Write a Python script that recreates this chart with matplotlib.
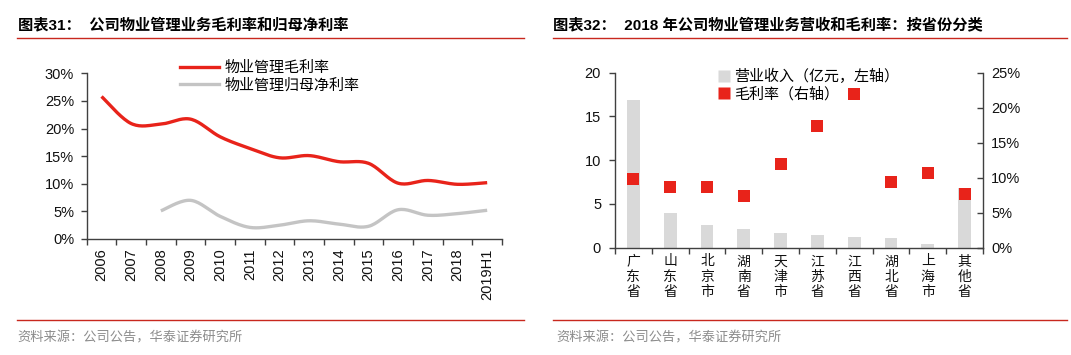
import numpy as np
import matplotlib
matplotlib.use("Agg")
import matplotlib.pyplot as plt
from matplotlib.lines import Line2D

plt.rcParams['font.family'] = ['Liberation Sans', 'Noto Sans CJK SC', 'DejaVu Sans']

# ---------------- data ----------------
years = ['2006', '2007', '2008', '2009', '2010', '2011', '2012', '2013',
         '2014', '2015', '2016', '2017', '2018', '2019H1']
gross_margin = [25.8, 20.9, 20.8, 21.7, 18.5, 16.4, 14.7, 15.1, 14.0, 13.7, 10.1, 10.6, 9.9, 10.2]
net_margin = [None, None, 5.1, 7.0, 4.1, 2.1, 2.5, 3.3, 2.7, 2.3, 5.3, 4.3, 4.6, 5.2]
left_legend = ['物业管理毛利率', '物业管理归母净利率']
left_title = '图表31：  公司物业管理业务毛利率和归母净利率'

provinces = ['广东省', '山东省', '北京市', '湖南省', '天津市', '江苏省', '江西省', '湖北省', '上海市', '其他省']
revenue = [16.9, 3.9, 2.6, 2.1, 1.7, 1.45, 1.25, 1.1, 0.38, 6.8]
province_margin = [9.8, 8.7, 8.6, 7.4, 12.0, 17.4, 22.0, 9.3, 10.7, 7.6]
right_legend = ['营业收入（亿元，左轴）', '毛利率（右轴）']
right_title = '图表32：  2018 年公司物业管理业务营收和毛利率：按省份分类'
source = '资料来源：公司公告，华泰证券研究所'

RED = '#E8231A'
GRAY_LINE = '#C4C4C4'
BAR = '#D9D9D9'
TITLE_RED = '#C8281E'
AX = '#404040'

W, H = 1071, 355
fig = plt.figure(figsize=(W / 100, H / 100), dpi=100)


def px_axes(x0, y0, x1, y1):
    return fig.add_axes([x0 / W, 1 - y1 / H, (x1 - x0) / W, (y1 - y0) / H])


def smooth(xs, ys, n=20):
    xs = np.asarray(xs, float)
    ys = np.asarray(ys, float)
    P = np.column_stack([xs, ys])
    out = []
    for i in range(len(P) - 1):
        p0 = P[i - 1] if i > 0 else P[i]
        p1 = P[i]
        p2 = P[i + 1]
        p3 = P[i + 2] if i + 2 < len(P) else P[i + 1]
        c1 = p1 + (p2 - p0) / 6
        c2 = p2 - (p3 - p1) / 6
        t = np.linspace(0, 1, n)[:, None]
        seg = (1 - t) ** 3 * p1 + 3 * (1 - t) ** 2 * t * c1 + 3 * (1 - t) * t ** 2 * c2 + t ** 3 * p2
        out.append(seg if i == 0 else seg[1:])
    arr = np.vstack(out)
    return arr[:, 0], arr[:, 1]


def style_axes(ax):
    for s in ['top', 'right']:
        ax.spines[s].set_visible(False)
    for s in ['left', 'bottom']:
        ax.spines[s].set_color(AX)
        ax.spines[s].set_linewidth(1.0)


# ---------------- left chart ----------------
ax1 = px_axes(86.7, 73.3, 502, 239)
style_axes(ax1)
x = np.arange(len(years))
sx, sy = smooth(x, gross_margin)
ax1.plot(sx, sy, color=RED, lw=2.4, solid_capstyle='butt')
idx = [i for i, v in enumerate(net_margin) if v is not None]
sx2, sy2 = smooth(x[idx], [net_margin[i] for i in idx])
ax1.plot(sx2, sy2, color=GRAY_LINE, lw=2.4, solid_capstyle='butt')
ax1.set_xlim(-0.5, len(years) - 0.5)
ax1.set_ylim(0, 30)
ax1.set_yticks(np.arange(0, 31, 5))
ax1.set_yticklabels([f'{v}%' for v in range(0, 31, 5)], fontsize=10.5, color='#111111')
ax1.set_xticks(x)
ax1.set_xticklabels(years, rotation=90, fontsize=10.5, color='#111111')
ax1.set_xticks(np.arange(-0.5, len(years), 1), minor=True)
ax1.tick_params(axis='x', which='major', length=0, pad=7)
ax1.tick_params(axis='x', which='minor', length=4, color=AX, width=1)
ax1.tick_params(axis='y', length=4, color=AX, width=1, pad=5)
ax1.patch.set_alpha(0)

h1 = [Line2D([0], [0], color=RED, lw=2.4), Line2D([0], [0], color=GRAY_LINE, lw=2.4)]
leg1 = fig.legend(h1, left_legend, loc='upper left', bbox_to_anchor=(174 / W, 1 - 55 / H),
                  frameon=False, prop={'family': ['Noto Sans CJK SC'], 'size': 10.8},
                  handlelength=2.6, handletextpad=0.4, labelspacing=0.2, borderaxespad=0)

# ---------------- right chart ----------------
ax2 = px_axes(615, 72.7, 983, 247.5)
style_axes(ax2)
xp = np.arange(len(provinces))
ax2.bar(xp, revenue, width=0.35, color=BAR, zorder=1)
ax2.set_xlim(-0.5, len(provinces) - 0.5)
ax2.set_ylim(0, 20)
ax2.set_yticks(np.arange(0, 21, 5))
ax2.set_yticklabels([str(v) for v in range(0, 21, 5)], fontsize=10.5, color='#111111')
ax2.tick_params(axis='y', length=4, color=AX, width=1, pad=6)
ax2.set_xticks(xp)
ax2.set_xticklabels(['\n'.join(p) for p in provinces], fontsize=10,
                    family=['Noto Sans CJK SC'], linespacing=1.1, color='#111111')
ax2.set_xticks(np.arange(-0.5, len(provinces), 1), minor=True)
ax2.tick_params(axis='x', which='major', length=0, pad=5)
ax2.tick_params(axis='x', which='minor', length=4, color=AX, width=1)

ax3 = ax2.twinx()
ax3.set_ylim(0, 25)
ax3.scatter(xp, province_margin, marker='s', s=68, color=RED, zorder=3, linewidths=0)
for s in ['top', 'left', 'bottom']:
    ax3.spines[s].set_visible(False)
ax3.spines['right'].set_color(AX)
ax3.spines['right'].set_linewidth(1.0)
ax3.set_yticks(np.arange(0, 26, 5))
ax3.set_yticklabels([f'{v}%' for v in range(0, 26, 5)], fontsize=10.5, color='#111111')
ax3.tick_params(axis='y', direction='in', length=4, color=AX, width=1, pad=6)

h2 = [Line2D([0], [0], marker='s', color='none', markerfacecolor=BAR, markeredgecolor='none', markersize=8.5),
      Line2D([0], [0], marker='s', color='none', markerfacecolor=RED, markeredgecolor='none', markersize=8.5)]
leg2 = fig.legend(h2, right_legend, loc='upper left', bbox_to_anchor=(712 / W, 1 - 63 / H),
                  frameon=False, prop={'family': ['Noto Sans CJK SC'], 'size': 10.8},
                  handlelength=0.8, handletextpad=0.3, labelspacing=0.2, borderaxespad=0)

# ---------------- titles, rules, sources ----------------
fig.text(18 / W, 1 - 25 / H, left_title, fontsize=11, fontweight='bold',
         family=['Liberation Sans', 'Noto Sans CJK SC'], va='center', ha='left')
fig.text(553 / W, 1 - 25 / H, right_title, fontsize=11, fontweight='bold',
         family=['Liberation Sans', 'Noto Sans CJK SC'], va='center', ha='left')
for (a, b) in [(17, 524), (553, 1067)]:
    fig.add_artist(Line2D([a / W, b / W], [1 - 37.5 / H, 1 - 37.5 / H], color=TITLE_RED, lw=1.0))
    fig.add_artist(Line2D([a / W, b / W], [1 - 319.5 / H, 1 - 319.5 / H], color=TITLE_RED, lw=1.0))
fig.text(17 / W, 1 - 338 / H, source, fontsize=9.5, color='#8C8C8C',
         family=['Noto Sans CJK SC'], va='center', ha='left')
fig.text(556 / W, 1 - 338 / H, source, fontsize=9.5, color='#8C8C8C',
         family=['Noto Sans CJK SC'], va='center', ha='left')

fig.savefig('out.png', dpi=100)
